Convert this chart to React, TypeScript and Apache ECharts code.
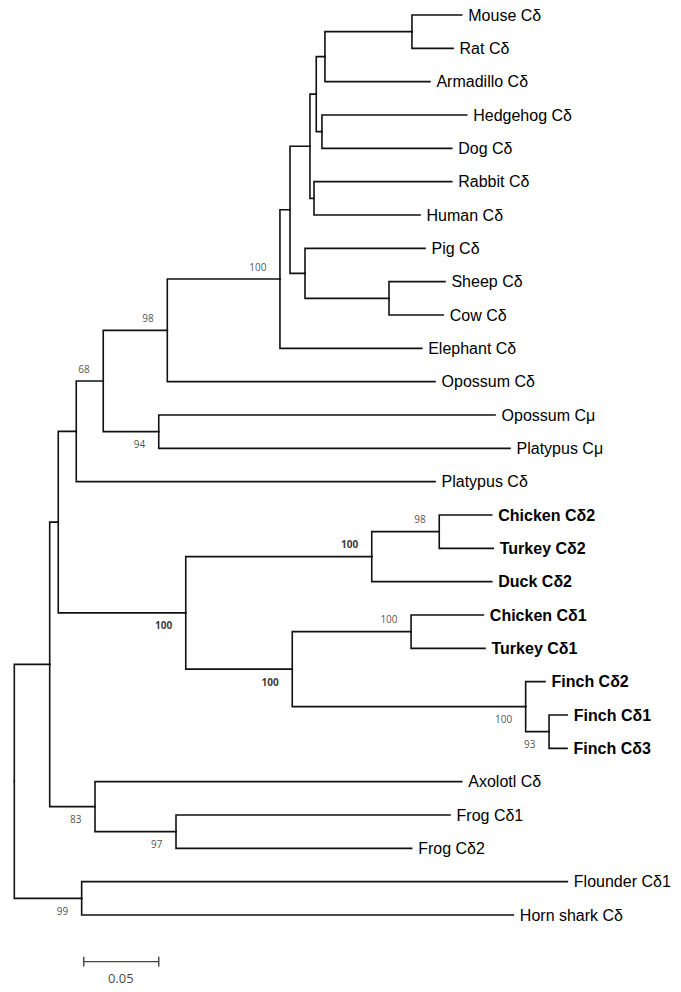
import React, { useEffect, useRef } from "react";
import * as echarts from "echarts";

// Leaves, top to bottom
const leafNames = [
  "Mouse Cδ", "Rat Cδ", "Armadillo Cδ", "Hedgehog Cδ", "Dog Cδ", "Rabbit Cδ", "Human Cδ",
  "Pig Cδ", "Sheep Cδ", "Cow Cδ", "Elephant Cδ", "Opossum Cδ", "Opossum Cμ", "Platypus Cμ",
  "Platypus Cδ", "Chicken Cδ2", "Turkey Cδ2", "Duck Cδ2", "Chicken Cδ1", "Turkey Cδ1",
  "Finch Cδ2", "Finch Cδ1", "Finch Cδ3", "Axolotl Cδ", "Frog Cδ1", "Frog Cδ2",
  "Flounder Cδ1", "Horn shark Cδ",
];
const leafParents = [
  "n11", "n11", "n10", "n12", "n12", "n13", "n13",
  "n14", "n15", "n15", "n6", "n5", "n16", "n16",
  "n3", "n19", "n19", "n18", "n21", "n21",
  "n22", "n23", "n23", "n24", "n25", "n25",
  "n26", "n26",
];
// distance from root (substitutions per site)
const leafDepths = [
  0.2983, 0.2925, 0.2771, 0.3016, 0.2916, 0.2916, 0.2705,
  0.2738, 0.2871, 0.2860, 0.2716, 0.2805, 0.3205, 0.3305,
  0.2805, 0.3183, 0.3193, 0.3183, 0.3127, 0.3138,
  0.3538, 0.3687, 0.3685, 0.2983, 0.2905, 0.2649,
  0.3687, 0.3327,
];
const boldLeaves = [
  "Chicken Cδ2", "Turkey Cδ2", "Duck Cδ2", "Chicken Cδ1", "Turkey Cδ1",
  "Finch Cδ2", "Finch Cδ1", "Finch Cδ3",
];

// Internal nodes
const nodeIds = [
  "root", "n1", "n2", "n3", "n4", "n5", "n6", "n7", "n8", "n9", "n10", "n11", "n12", "n13",
  "n14", "n15", "n16", "n17", "n18", "n19", "n20", "n21", "n22", "n23", "n24", "n25", "n26",
];
const nodeParents = [
  null, "root", "n1", "n2", "n3", "n4", "n5", "n6", "n7", "n8", "n9", "n10", "n9", "n8",
  "n7", "n14", "n4", "n2", "n17", "n18", "n17", "n20", "n20", "n22", "n1", "n24", "root",
];
const nodeDepths = [
  0, 0.0236, 0.0293, 0.0413, 0.0593, 0.1020, 0.1771, 0.1838, 0.1971, 0.2013, 0.2071, 0.2651,
  0.2051, 0.1998, 0.1938, 0.2498, 0.0963, 0.1143, 0.2383, 0.2833, 0.1853, 0.2645, 0.3409,
  0.3565, 0.0538, 0.1078, 0.0449,
];
const nodeSupport = [
  null, null, null, null, 68, 98, 100, null, null, null, null, null, null, null,
  null, null, 94, 100, 100, 98, 100, 100, 100, 93, 83, 97, 99,
];
const boldSupportNodes = ["n17", "n18", "n20"];

const scaleBarStart = 0.0463;
const scaleBarLength = 0.05;
const scaleBarLabel = "0.05";
const scaleBarRow = 28.4;

export default function App() {
  const ref = useRef<HTMLDivElement>(null);
  useEffect(() => {
    const chart = echarts.init(ref.current!, null, { renderer: "svg" });

    const depth: Record<string, number> = {};
    const parent: Record<string, string | null> = {};
    const yOf: Record<string, number> = {};
    nodeIds.forEach((id, i) => {
      depth[id] = nodeDepths[i];
      parent[id] = nodeParents[i];
    });
    leafNames.forEach((_, i) => {
      const k = "leaf" + i;
      depth[k] = leafDepths[i];
      parent[k] = leafParents[i];
      yOf[k] = i;
    });
    const children: Record<string, string[]> = {};
    Object.keys(parent).forEach((k) => {
      const p = parent[k];
      if (p) (children[p] = children[p] || []).push(k);
    });
    const getY = (id: string): number => {
      if (yOf[id] !== undefined) return yOf[id];
      const ys = (children[id] || []).map(getY);
      const y = (Math.min(...ys) + Math.max(...ys)) / 2;
      yOf[id] = y;
      return y;
    };
    getY("root");

    const segs = Object.keys(parent)
      .filter((k) => parent[k])
      .map((k) => {
        const p = parent[k] as string;
        return {
          coords: [
            [depth[p], yOf[p]],
            [depth[p], yOf[k]],
            [depth[k], yOf[k]],
          ],
        };
      });

    const supportData = nodeIds
      .map((id, i) => ({ id, i }))
      .filter(({ i }) => nodeSupport[i] !== null)
      .map(({ id, i }) => {
        const p = nodeParents[i] as string;
        const above = yOf[id] < yOf[p];
        const bold = boldSupportNodes.includes(id);
        return {
          name: String(nodeSupport[i]),
          value: [nodeDepths[i], yOf[id]],
          label: {
            position: [-13, above ? -12 : 13],
            fontWeight: bold ? "bold" : "normal",
            color: bold ? "#000000" : "#222222",
          },
        };
      });

    const leafData = leafNames.map((n, i) => ({
      name: n,
      value: [leafDepths[i], i],
      label: { fontWeight: boldLeaves.includes(n) ? "bold" : "normal" },
    }));

    const tick = 0.145;
    const sbEnd = scaleBarStart + scaleBarLength;
    const scaleSegs = [
      { coords: [[scaleBarStart, scaleBarRow], [sbEnd, scaleBarRow]] },
      { coords: [[scaleBarStart, scaleBarRow - tick], [scaleBarStart, scaleBarRow + tick]] },
      { coords: [[sbEnd, scaleBarRow - tick], [sbEnd, scaleBarRow + tick]] },
    ];

    chart.setOption({
      animation: false,
      backgroundColor: "#ffffff",
      grid: { left: 14.3, width: 660, top: 0, bottom: 0 },
      xAxis: { type: "value", min: 0, max: 0.44, show: false },
      yAxis: { type: "value", min: -0.45, max: 29.31, inverse: true, show: false },
      series: [
        {
          type: "lines",
          coordinateSystem: "cartesian2d",
          polyline: true,
          silent: true,
          lineStyle: { color: "#111111", width: 1.6, opacity: 1, cap: "square" },
          data: segs,
        },
        {
          type: "lines",
          coordinateSystem: "cartesian2d",
          polyline: true,
          silent: true,
          lineStyle: { color: "#444444", width: 1.4, opacity: 1 },
          data: scaleSegs,
        },
        {
          type: "scatter",
          silent: true,
          symbolSize: 1,
          itemStyle: { color: "transparent" },
          label: {
            show: true,
            position: "right",
            distance: 6,
            formatter: (p: any) => p.name,
            fontFamily: "Arial",
            fontSize: 16,
            color: "#000000",
            opacity: 1,
            verticalAlign: "middle",
          },
          data: leafData,
        },
        {
          type: "scatter",
          silent: true,
          symbolSize: 1,
          itemStyle: { color: "transparent" },
          label: {
            show: true,
            formatter: (p: any) => p.name,
            fontFamily: "Open Sans",
            fontSize: 10,
            align: "right",
            verticalAlign: "middle",
          },
          data: supportData,
        },
        {
          type: "scatter",
          silent: true,
          symbolSize: 1,
          itemStyle: { color: "transparent" },
          label: {
            show: true,
            position: [0, 17],
            formatter: scaleBarLabel,
            fontFamily: "Open Sans",
            fontSize: 13,
            color: "#111111",
            align: "center",
            verticalAlign: "middle",
          },
          data: [{ name: scaleBarLabel, value: [scaleBarStart + scaleBarLength / 2, scaleBarRow] }],
        },
      ],
    });
    return () => chart.dispose();
  }, []);
  return (
    <div
      ref={ref}
      style={{ position: "absolute", left: 0, top: 0, width: 681, height: 992, background: "#fff" }}
    />
  );
}
